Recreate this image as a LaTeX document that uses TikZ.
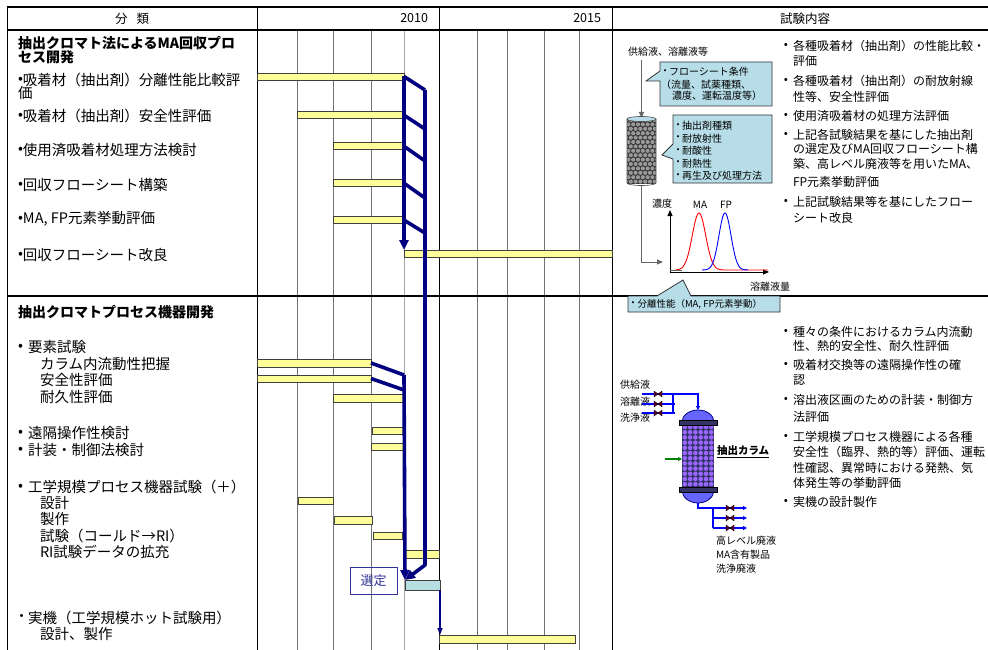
\documentclass[tikz,border=0pt]{standalone}
\usepackage{fontspec}
\setmainfont{Noto Sans CJK JP}
\usetikzlibrary{arrows.meta}
\definecolor{barY}{HTML}{FFFF99}
\definecolor{selT}{HTML}{B7DEE0}
\definecolor{callF}{HTML}{B7DEE8}
\definecolor{navyC}{HTML}{000080}
\definecolor{domeB}{HTML}{6666FF}
\definecolor{beadP}{HTML}{9966FF}
\definecolor{bodyD}{HTML}{333366}
\definecolor{valveR}{HTML}{5A0028}
\definecolor{selBlue}{HTML}{333399}
\begin{document}
\begin{tikzpicture}[x=1pt,y=-1pt,
  every node/.style={inner sep=0pt, outer sep=0pt},
  gridline/.style={draw=black!55, line width=0.8pt},
  bar/.style={draw=black!75, fill=barY, line width=0.8pt, anchor=north west, minimum height=7pt},
  navyline/.style={draw=navyC, line width=3.6pt, line join=round},
  navyarrow/.style={navyline, -{Triangle[length=10pt,width=9pt]}},
  ltext/.style={anchor=west, font=\fontsize{14.5}{16}\selectfont},
  lbold/.style={anchor=west, font=\fontsize{14}{16}\selectfont\bfseries},
  rtext/.style={anchor=west, font=\fontsize{12}{14}\selectfont},
  htext/.style={font=\fontsize{12.5}{14}\selectfont},
  stext/.style={font=\fontsize{10}{12}\selectfont},
  callout/.style={draw=black!80, fill=callF, line width=0.8pt},
  grayarrow/.style={draw=black!60, line width=1pt, -{Triangle[length=6pt,width=5pt]}},
  axisarrow/.style={draw=black, line width=1pt, -{Triangle[length=6pt,width=5pt]}},
  pipe/.style={draw=blue, line width=1.2pt},
  pipearrow/.style={pipe, -{Triangle[length=4pt,width=4pt]}},
  valve/.pic={\fill[valveR,draw=black,line width=0.3pt] (-4,-3) -- (-4,3) -- (0,0) -- cycle;
              \fill[valveR,draw=black,line width=0.3pt] (4,-3) -- (4,3) -- (0,0) -- cycle;}
]
\useasboundingbox (0,0) rectangle (988,650);
\fill[white] (0,0) rectangle (988,650);

% ---- grid ----
\foreach \x in {297,333,371,477,507,544,579} \draw[gridline] (\x,30) -- (\x,650);
\draw[gridline, draw=black!35] (404,30) -- (404,650);
\foreach \x in {257,439,612} \draw[line width=1pt] (\x,7) -- (\x,650);
\draw[line width=1.8pt] (6.6,7) -- (988,7);
\draw[line width=1.8pt] (7.5,6.1) -- (7.5,650);
\draw[line width=1.2pt] (7,30) -- (988,30);
\draw[line width=1.5pt] (7,296) -- (988,296);

% ---- header ----
\node[htext] (hA) at (132,18.5) {分\hspace{9pt}類};
\node[htext, anchor=east] (hB) at (428,18.5) {2010};
\node[htext, anchor=east] (hC) at (601,18.5) {2015};
\node[htext] (hD) at (805,18.5) {試験内容};

% ---- left column, section 1 ----
\node[lbold] (t1) at (18,43) {抽出クロマト法によるMA回収プロ};
\node[lbold] (t1b) at (18,57.5) {セス開発};
\foreach \yy in {80,116,150,185,219,255} \node[ltext, anchor=center] at (20.5,\yy) {•};
\foreach \yy/\txt [count=\i] in {80/吸着材（抽出剤）分離性能比較評, 116/吸着材（抽出剤）安全性評価,
   150/使用済吸着材処理方法検討, 185/回収フローシート構築, 219/{MA, FP元素挙動評価}, 255/回収フローシート改良}
   \node[ltext] (La\i) at (23,\yy) {\txt};
\node[ltext] (La1b) at (18,93.5) {価};

% ---- left column, section 2 ----
\node[lbold] (t2) at (18,312) {抽出クロマトプロセス機器開発};
\foreach \yy in {347,433,450,487} \node[ltext, anchor=center] at (20.5,\yy) {•};
\foreach \yy/\txt [count=\i] in {347/要素試験, 433/遠隔操作性検討, 450/計装・制御法検討, 487/工学規模プロセス機器試験（＋）}
   \node[ltext] (Lb\i) at (28,\yy) {\txt};
\foreach \yy/\txt [count=\i] in {364/カラム内流動性把握, 380/安全性評価, 397/耐久性評価, 503/設計, 519/製作,
   536/試験（コールド→RI）, 552/RI試験データの拡充, 634/設計、製作}
   \node[ltext] (Lc\i) at (40,\yy) {\txt};
\node[ltext, anchor=center] (dotj) at (21.5,618) {・};
\node[ltext] (Ld1) at (28,618) {実機（工学規模ホット試験用）};

% ---- right column texts ----
\foreach \yy in {46,81,116,135,202,332,365,400,437,502} \node[rtext, anchor=center] at (786,\yy) {•};
\foreach \yy/\txt [count=\i] in {46/各種吸着材（抽出剤）の性能比較・, 61/評価, 81/各種吸着材（抽出剤）の耐放射線,
   97/性等、安全性評価, 116/使用済吸着材の処理方法評価, 135/上記各試験結果を基にした抽出剤,
   149/の選定及びMA回収フローシート構, 164/築、高レベル廃液等を用いたMA、, 182/FP元素挙動評価,
   202/上記試験結果等を基にしたフロー, 218/シート改良}
   \node[rtext] (Ra\i) at (793,\yy) {\txt};
\foreach \yy/\txt [count=\i] in {332/種々の条件におけるカラム内流動, 346/性、熱的安全性、耐久性評価,
   365/吸着材交換等の遠隔操作性の確, 380/認, 400/溶出液区画のための計装・制御方, 417/法評価,
   437/工学規模プロセス機器による各種, 452/安全性（臨界、熱的等）評価、運転,
   468/性確認、異常時における発熱、気, 483/体発生等の挙動評価, 502/実機の設計製作}
   \node[rtext] (Rb\i) at (793,\yy) {\txt};

% ---- bars ----
\node[bar, minimum width=147pt] (b1) at (257,73) {};
\node[bar, minimum width=106pt] (b2) at (297,111) {};
\node[bar, minimum width=70pt] (b3) at (333,142) {};
\node[bar, minimum width=70pt] (b4) at (333,179) {};
\node[bar, minimum width=70pt] (b5) at (333,216) {};
\node[bar, minimum width=208pt] (b6) at (404,250) {};
\node[bar, minimum width=114pt, minimum height=8pt] (ba) at (257,359) {};
\node[bar, minimum width=114pt] (bb) at (257,375) {};
\node[bar, minimum width=70pt, minimum height=8pt] (bc) at (333,394) {};
\node[bar, minimum width=31pt] (bd) at (372,427) {};
\node[bar, minimum width=32pt] (be) at (371,443) {};
\node[bar, minimum width=35pt] (bf) at (298,497) {};
\node[bar, minimum width=38pt, minimum height=8pt] (bg) at (334,516) {};
\node[bar, minimum width=29pt] (bh) at (373,532) {};
\node[bar, minimum width=35pt, minimum height=8pt] (bi) at (404,550) {};
\node[bar, fill=selT, minimum width=35pt, minimum height=10pt] (sel) at (405,580) {};
\node[bar, minimum width=136pt, minimum height=8pt] (bj) at (439,635) {};

% ---- selection box ----
\node[draw=selBlue, line width=1pt, text=selBlue, minimum width=47pt, minimum height=27pt,
      font=\fontsize{13}{15}\selectfont] (selbox) at (373.5,580.5) {選定};

% ---- navy connectors ----
\coordinate (r0) at (425,90);
\coordinate (r1) at (425,565);
\coordinate (l0) at (404,375);
\draw[navyline] (b1.east) -- (r0);
\draw[navyline] (b2.east) -- (425,129);
\draw[navyline] (b3.east) -- (425,161);
\draw[navyline] (b4.east) -- (425,198);
\draw[navyline] (b5.east) -- (425,233);
\draw[navyarrow] (b1.east) -- (b6.north west);
\draw[navyarrow] (r0) -- (r1) -- (sel.north west);
\draw[navyline] (ba.east) -- (l0);
\draw[navyline] (bb.east) -- (404,390);
\draw[navyarrow] (l0) -- (sel.north west);
\draw[draw=navyC, line width=1.3pt, -{Triangle[length=7pt,width=5pt]}] (sel.south east) -- (sel.south east |- bj.north west);

% ---- diagram 1: extraction column test ----
\node[stext] (feedlbl) at (668,52) {供給液、溶離液等};
\coordinate (cyltop) at (641.5,118);
\draw[grayarrow] (641.5,60) -- (cyltop);
\draw[callout] (660,62) -- (772,62) -- (772,106) -- (660,106) -- (660,81) -- (646,81) -- (660,71) -- cycle;
\node[stext, anchor=center] (c1d) at (665,72) {・};
\node[stext, anchor=west] (c1a) at (669,72) {フローシート条件};
\node[stext, anchor=west] (c1b) at (661,85) {（流量、試薬種類、};
\node[stext, anchor=west] (c1c) at (672,96) {濃度、運転温度等）};
\draw[callout] (673,115) -- (772,115) -- (772,183) -- (673,183) -- (673,159) -- (662,155) -- (673,144) -- cycle;
\foreach \yy/\txt [count=\i] in {126/抽出剤種類, 138.5/耐放射性, 151/耐酸性, 163.5/耐熱性, 176/再生及び処理方法} {
  \node[stext, anchor=center] at (678,\yy) {・};
  \node[stext, anchor=west] (c2\i) at (682,\yy) {\txt};
}
% packed cylinder
\begin{scope}
  \clip (627,119) rectangle (656,183);
  \fill[black!80] (627,118) rectangle (656,184);
  \foreach \r in {0,...,14} \foreach \c in {0,...,6}
    \fill[black!40] ({626+\c*4.8+mod(\r,2)*2.4}, {120+\r*4.4}) circle (2.1pt);
\end{scope}
\draw[black!70, line width=0.6pt] (627,119) -- (627,183) arc[start angle=180, end angle=360, x radius=14.5pt, y radius=2.5pt] -- (656,119);
\draw[black!70, fill=callF, line width=0.6pt] (641.5,119) ellipse (14.5pt and 2.5pt);
\coordinate (cylbot) at (641.5,185);
\draw[grayarrow] (cylbot) -- (641.5,262) -- (663,262);
% chromatogram
\coordinate (orig) at (670,272);
\draw[axisarrow] (orig) -- (670,210);
\draw[axisarrow] (orig) -- (769,272);
\draw[black!60, line width=0.9pt] (670,270) -- (682,270);
\draw[red, line width=0.9pt] plot[domain=676:768, samples=120] (\x, {270-57*exp(max(-9,-((\x-699)/9.5)*((\x-699)/9.5)))});
\draw[blue, line width=0.9pt] plot[domain=702:748, samples=90] (\x, {270-57*exp(max(-9,-((\x-725)/8.5)*((\x-725)/8.5)))});
\node[stext] (ylbl) at (662,204) {濃度};
\node[stext] (malbl) at (700,205) {MA};
\node[stext] (fplbl) at (726,205) {FP};
\node[stext] (xlbl) at (770,287) {溶離液量};
\draw[callout] (628,296) -- (657,296) -- (683,280) -- (691,296) -- (780,296) -- (780,312) -- (628,312) -- cycle;
\node[stext, anchor=center] (c3d) at (633,304.5) {・};
\node[stext, anchor=west, font=\fontsize{9.5}{11}\selectfont] (c3) at (637.5,304.5) {分離性能（MA, FP元素挙動）};

% ---- diagram 2: engineering-scale column ----
\node[stext, anchor=west] (in1) at (620,385) {供給液};
\node[stext, anchor=west] (in2) at (620,402) {溶離液};
\node[stext, anchor=west] (in3) at (620,418) {洗浄液};
\coordinate (coltop) at (698,410);
\draw[pipearrow] (642,394) -- (698,394) -- (coltop);
\draw[pipe] (642,404) -- (675,404);
\draw[pipe] (642,413) -- (675,413);
\draw[pipe] (673,394) -- (673,413);
\foreach \yy in {394,404,413} \pic at (658,\yy) {valve};
% column
\draw[fill=domeB, draw=navyC, line width=0.8pt] (682,422) arc[start angle=180, end angle=0, x radius=16pt, y radius=12pt] -- cycle;
\draw[fill=domeB, draw=navyC, line width=0.8pt] (682,490) arc[start angle=180, end angle=360, x radius=16pt, y radius=13pt] -- cycle;
\fill[bodyD] (682,424) rectangle (714,488);
\foreach \r in {0,...,11} \foreach \c in {0,...,5}
  \fill[beadP] ({684.8+\c*5.3}, {427+\r*5.2}) circle (2.3pt);
\fill[bodyD, draw=black, line width=0.4pt] (679,420) rectangle (717,425);
\fill[bodyD, draw=black, line width=0.4pt] (679,487) rectangle (717,492);
\draw[draw=green!50!black, line width=1.3pt, -{Triangle[length=4pt,width=4pt]}] (665,459) -- (682,459);
\node[anchor=west, font=\fontsize{10.5}{12}\selectfont\bfseries] (colname) at (717,452) {\underline{抽出カラム}};
\coordinate (colbot) at (698,503);
\draw[pipearrow] (colbot) -- (698,508) -- (747,508);
\draw[pipe] (713,508) -- (713,528);
\draw[pipearrow] (713,518) -- (747,518);
\draw[pipearrow] (713,528) -- (747,528);
\foreach \yy in {508,518,528} \pic at (730,\yy) {valve};
\node[stext, anchor=west] (out1) at (716,541) {高レベル廃液};
\node[stext, anchor=west] (out2) at (716,555) {MA含有製品};
\node[stext, anchor=west] (out3) at (716,569) {洗浄廃液};
\end{tikzpicture}
\end{document}
